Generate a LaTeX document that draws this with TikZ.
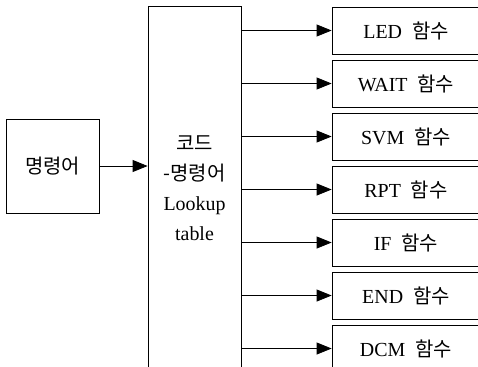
\documentclass[tikz,border=0pt]{standalone}
\usepackage{fontspec}
\setmainfont{Liberation Serif}
\newfontfamily\kr{Noto Sans CJK KR}
\usetikzlibrary{arrows.meta,positioning}

\begin{document}
\begin{tikzpicture}[x=1bp,y=-1bp,
    line width=0.8bp,
    font=\fontsize{20}{30}\selectfont,
    box/.style={draw,inner sep=0pt},
    func/.style={box,minimum width=148bp,minimum height=47bp},
    arr/.style={-{Triangle[length=15bp,width=12bp]}}]
  \useasboundingbox (0,0) rectangle (478,366);
  \clip (0,0) rectangle (478,366);
  \node[box,minimum width=93bp,minimum height=94bp] (cmd) at (52.5,166) {\kr 명령어};
  \node[box,minimum width=93bp,minimum height=400bp] (tbl) at (194.5,206)
    {};
  \node[align=center] (tbltext) at (194.5,188)
    {{\kr 코드}\\{\kr -명령어}\\Lookup\\table};
  % function boxes
  \node[func] (led) at (406,30.5) {LED~ {\kr 함수}};
  \node[func,below=5.2bp of led] (wait) {WAIT~ {\kr 함수}};
  \node[func,below=5.2bp of wait] (svm) {SVM~ {\kr 함수}};
  \node[func,below=5.2bp of svm] (rpt) {RPT~ {\kr 함수}};
  \node[func,below=5.2bp of rpt] (if) {IF~ {\kr 함수}};
  \node[func,below=5.2bp of if] (end) {END~ {\kr 함수}};
  \node[func,below=5.2bp of end] (dcm) {DCM~ {\kr 함수}};
  \draw[arr] (cmd.east) -- (cmd.east -| tbl.west);
  \foreach \f in {led,wait,svm,rpt,if,end,dcm}
    \draw[arr] (\f.west -| tbl.east) -- (\f.west);
\end{tikzpicture}
\end{document}
